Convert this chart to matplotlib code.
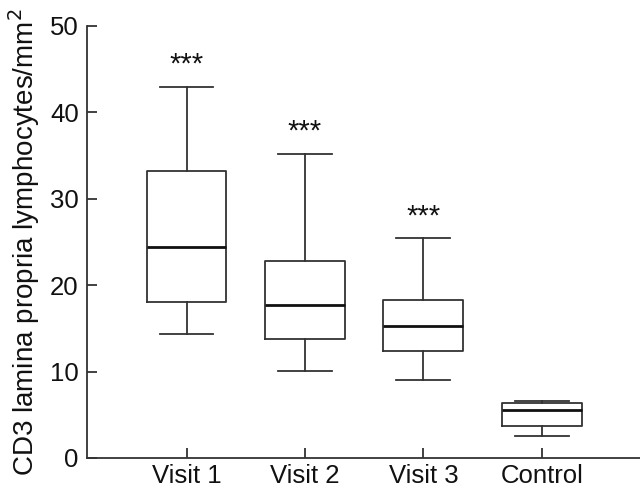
import matplotlib
matplotlib.use("Agg")
import matplotlib.pyplot as plt
from matplotlib.transforms import offset_copy

categories = ["Visit 1", "Visit 2", "Visit 3", "Control"]
whislo = [14.35, 10.07, 9.0, 2.5]
q1 = [18.05, 13.8, 12.4, 3.67]
med = [24.4, 17.7, 15.3, 5.6]
q3 = [33.2, 22.8, 18.3, 6.37]
whishi = [42.9, 35.2, 25.5, 6.6]
signif = ["***", "***", "***", ""]
signif_y = [46.1, 38.3, 28.5, 0]

plt.rcParams['font.family'] = ['Liberation Sans', 'DejaVu Sans']
col = "#333333"

fig = plt.figure(figsize=(6.4, 4.88), dpi=100)
ax = fig.add_axes([0.136, 0.0615, 0.864, 0.8855])

stats = []
for i, c in enumerate(categories):
    stats.append(dict(label=c, whislo=whislo[i], q1=q1[i], med=med[i],
                      q3=q3[i], whishi=whishi[i], fliers=[]))
pos = list(range(1, len(categories) + 1))
ax.bxp(stats, positions=pos, widths=0.675, showfliers=False,
       boxprops=dict(color=col, linewidth=1.3),
       whiskerprops=dict(color=col, linewidth=1.3),
       capprops=dict(color=col, linewidth=1.3),
       medianprops=dict(color="#111111", linewidth=2.0),
       capwidths=0.456)

tr = offset_copy(ax.transData, fig=fig, x=0, y=-9.0, units='points')
for p, s, y in zip(pos, signif, signif_y):
    if s:
        ax.text(p, y, s, ha='center', va='baseline', fontsize=21,
                color="#111111", transform=tr)

ax.set_xlim(0.16, 4.83)
ax.set_ylim(0, 50)
ax.set_yticks([0, 10, 20, 30, 40, 50])
ax.set_xticks(pos)
ax.set_xticklabels(categories)
for s in ['top', 'right']:
    ax.spines[s].set_visible(False)
for s in ['left', 'bottom']:
    ax.spines[s].set_color(col)
    ax.spines[s].set_linewidth(1.3)
ax.tick_params(axis='both', direction='in', length=7, width=1.3, color=col,
               labelsize=18.5, labelcolor="#111111")
ax.tick_params(axis='y', pad=6)
ax.tick_params(axis='x', pad=4)
ax.set_ylabel("CD3 lamina propria lymphocytes/mm$^2$", fontsize=20, color="#111111", labelpad=6)

fig.savefig("out.png", dpi=100)
